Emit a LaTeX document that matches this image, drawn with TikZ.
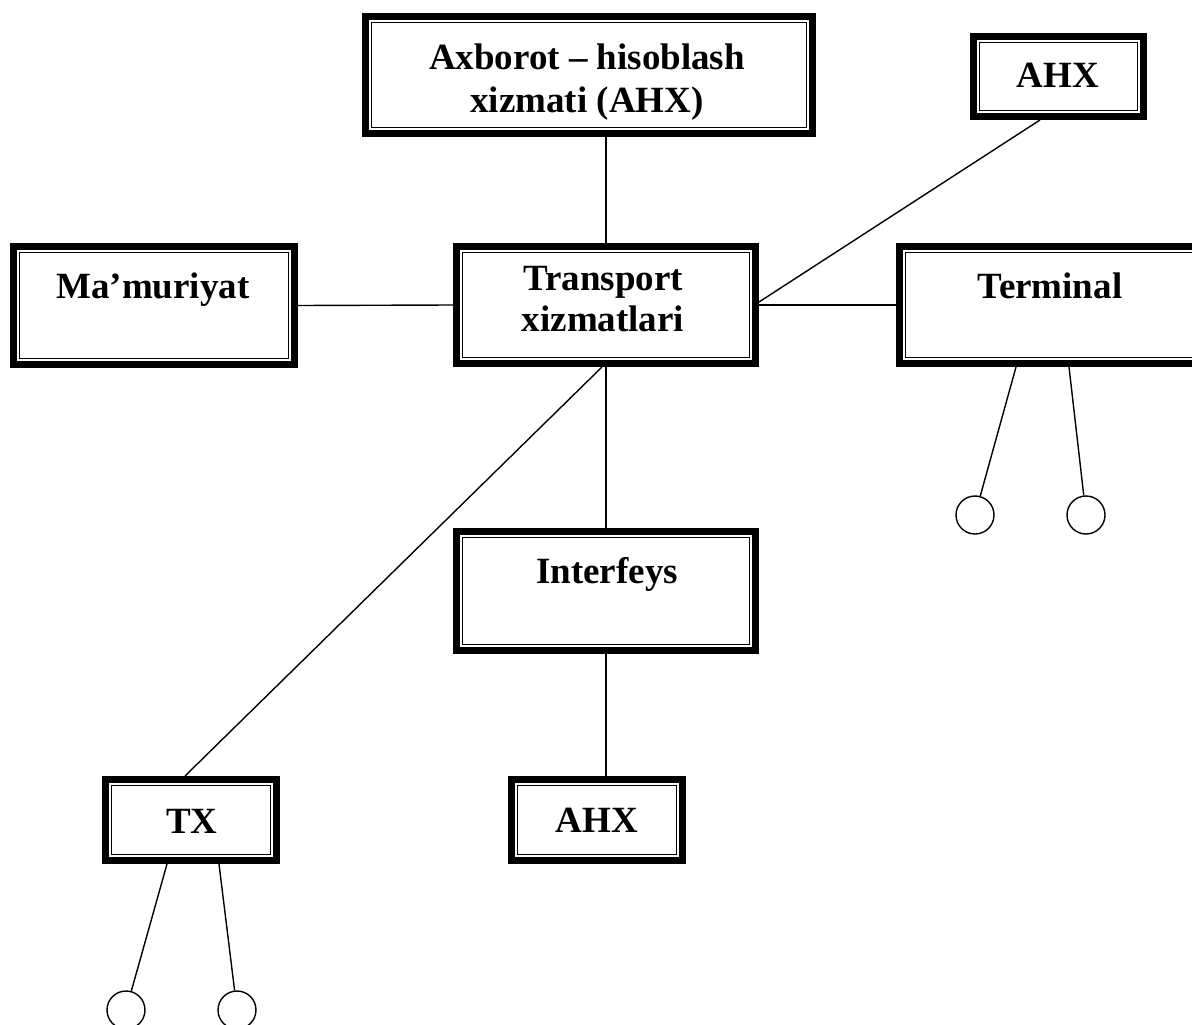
\documentclass[tikz,border=0pt]{standalone}
\usepackage{fontspec}
\setmainfont{Liberation Serif}
\begin{document}
\begin{tikzpicture}[x=1pt,y=-1pt,
  box/.style={draw, line width=7pt, inner sep=0pt, outer sep=3.5pt, fill=white},
  innerline/.style={draw, line width=1.3pt},
  lbl/.style={font=\bfseries\fontsize{37}{41}\selectfont, inner sep=0pt, anchor=base},
  conn/.style={line width=1.4pt},
  term/.style={circle, draw, line width=1.4pt, minimum size=38pt, inner sep=0pt}]
\useasboundingbox (0,0) rectangle (1192,1025);
\clip (0,0) rectangle (1192,1025);
% boxes
\node[box, minimum width=447pt, minimum height=117pt] (ax) at (589,75) {};
\node[box, minimum width=299pt, minimum height=117pt] (tr) at (606,305) {};
\node[box, minimum width=281pt, minimum height=118pt] (ma) at (154,305.5) {};
\node[box, minimum width=299pt, minimum height=117pt] (te) at (1049,305) {};
\node[box, minimum width=170pt, minimum height=80pt] (ahxa) at (1058.5,76.5) {};
\node[box, minimum width=299pt, minimum height=119pt] (in) at (606,591) {};
\node[box, minimum width=171pt, minimum height=81pt] (tx) at (191,820) {};
\node[box, minimum width=171pt, minimum height=81pt] (ahxb) at (597,820) {};
\foreach \n in {ax,tr,ma,te,ahxa,in,tx,ahxb}
  \draw[innerline] ([shift={(9.5pt,-9.5pt)}]\n.north west) rectangle ([shift={(-9.5pt,9.5pt)}]\n.south east);
% labels
\node[lbl] (axa) at (587,70) {Axborot – hisoblash};
\node[lbl] (axb) at (587,112) {xizmati (AHX)};
\node[lbl] (tra) at (603,290) {Transport};
\node[lbl] (trb) at (603,331) {xizmatlari};
\node[lbl] (mal) at (153,298) {Ma’muriyat};
\node[lbl] (tel) at (1050,298) {Terminal};
\node[lbl] (ahxal) at (1058,88) {AHX};
\node[lbl] (inl) at (607,583) {Interfeys};
\node[lbl] (txl) at (192,833) {TX};
\node[lbl] (ahxbl) at (597,832) {AHX};
% terminals
\node[term] (c1) at (975,515) {};
\node[term] (c2) at (1086,515) {};
\node[term] (c3) at (126,1010) {};
\node[term] (c4) at (237,1010) {};
% connectors
\draw[conn] (tr.north) -- (tr.north |- ax.south);
\draw[conn] (ma.east) -- (tr.west);
\draw[conn] (tr.east) -- (te.west);
\draw[conn] ([yshift=3pt]tr.east) -- ([xshift=-18.5pt]ahxa.south);
\draw[conn] (tr.south) -- (in.north);
\draw[conn] ([xshift=-4pt]tr.south) -- ([xshift=-6pt]tx.north);
\draw[conn] (in.south) -- (in.south |- ahxb.north);
\draw[conn] ([xshift=-33pt]te.south) -- (c1);
\draw[conn] ([xshift=20pt]te.south) -- (c2);
\draw[conn] ([xshift=-24pt]tx.south) -- (c3);
\draw[conn] ([xshift=28pt]tx.south) -- (c4);
\end{tikzpicture}
\end{document}
